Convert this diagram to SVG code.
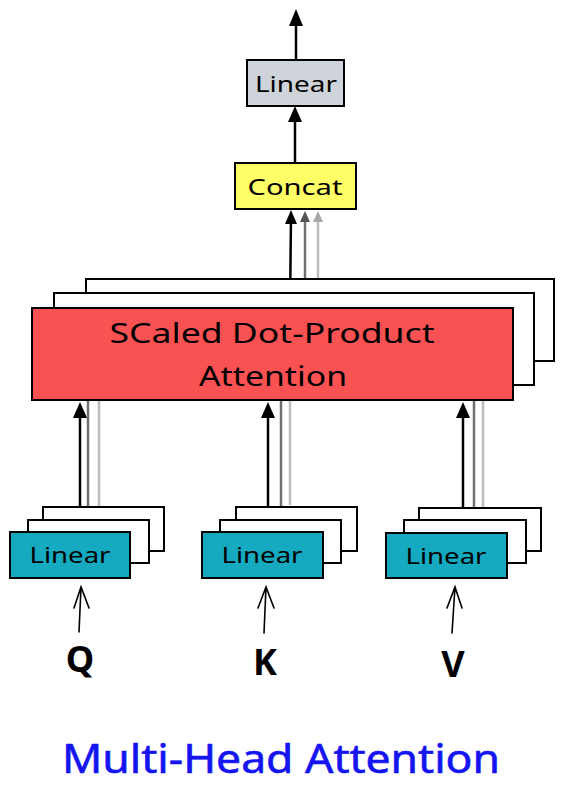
<svg xmlns="http://www.w3.org/2000/svg" width="564" height="797" viewBox="0 0 564 797">
<style>
.box{stroke:#000;stroke-width:2}
.back{fill:#fff;stroke:#000;stroke-width:2}
.lbl{font-family:"Noto Sans","Liberation Sans",sans-serif;fill:#000;text-anchor:middle;dominant-baseline:central}
.big{font-family:"Noto Sans","Liberation Sans",sans-serif;font-weight:bold;fill:#000;text-anchor:middle}
.arr{stroke:#000;stroke-width:2.5;fill:none}
.g1{stroke:#707070;stroke-width:2.5;fill:none}
.g2{stroke:#bdbdbd;stroke-width:2.5;fill:none}
.thin{stroke:#000;stroke-width:1.6;fill:none;stroke-linecap:round}
</style>

<g id="connectors">
<!-- top output -->
<line class="arr" x1="296" y1="60" x2="296" y2="14"/>
<path d="M296,9 L289,26 L303,26 Z" fill="#000"/>
<!-- concat to linear -->
<line class="arr" x1="295" y1="163" x2="295" y2="112"/>
<path d="M295,106 L288,122 L302,122 Z" fill="#000"/>
<!-- attention to concat -->
<line class="g2" x1="318" y1="279" x2="318" y2="218"/>
<path d="M318,211 L313,222 L323,222 Z" fill="#a8a8a8"/>
<line class="g1" x1="305" y1="293" x2="305" y2="218"/>
<path d="M305,211 L300,222 L310,222 Z" fill="#555"/>
<line class="arr" x1="290" y1="308" x2="291" y2="216"/>
<path d="M291,210 L285,224 L297,224 Z" fill="#000"/>
<!-- Q -->
<line class="g2" x1="99" y1="508" x2="99" y2="400"/>
<line class="g1" x1="88" y1="520" x2="88" y2="400"/>
<line class="arr" x1="80" y1="535" x2="80" y2="410"/>
<path d="M80,402 L73,418 L87,418 Z" fill="#000"/>
<!-- K -->
<line class="g2" x1="290" y1="505" x2="290" y2="400"/>
<line class="g1" x1="281" y1="517" x2="281" y2="400"/>
<line class="arr" x1="268" y1="535" x2="268" y2="410"/>
<path d="M268,402 L261,418 L275,418 Z" fill="#000"/>
<!-- V -->
<line class="g2" x1="483" y1="508" x2="483" y2="400"/>
<line class="g1" x1="474" y1="520" x2="474" y2="400"/>
<line class="arr" x1="463" y1="533" x2="463" y2="410"/>
<path d="M463,402 L456,418 L470,418 Z" fill="#000"/>
<!-- inputs -->
<path class="thin" d="M79,632 L81,587 M74,608 L81,587 L89,608"/>
<path class="thin" d="M264,633 L266,587 M258,608 L266,587 L274,608"/>
<path class="thin" d="M452,633 L455,587 M447,608 L455,587 L462,608"/>
</g>

<g id="linear-out">
<rect class="box" x="247" y="60" width="97" height="46" fill="#ced4da"/>
<text class="lbl" x="296" y="83" font-size="22" textLength="82" lengthAdjust="spacingAndGlyphs">Linear</text>
</g>

<g id="concat">
<rect class="box" x="235" y="163" width="121" height="46" fill="#ffff66"/>
<text class="lbl" x="295" y="186" font-size="22" textLength="95" lengthAdjust="spacingAndGlyphs">Concat</text>
</g>

<g id="attention">
<rect class="back" x="86" y="279" width="468" height="82"/>
<rect class="back" x="54" y="293" width="480" height="92"/>
<rect class="box" x="32" y="308" width="481" height="92" fill="#fa5252"/>
<text class="lbl" x="272" y="332" font-size="28" textLength="325" lengthAdjust="spacingAndGlyphs">SCaled Dot-Product</text>
<text class="lbl" x="273" y="375" font-size="28" textLength="148" lengthAdjust="spacingAndGlyphs">Attention</text>
</g>

<g id="linear-q">
<rect class="back" x="43" y="507" width="121" height="44"/>
<rect class="back" x="28" y="520" width="121" height="43"/>
<rect class="box" x="10" y="532" width="120" height="46" fill="#15aabf"/>
<text class="lbl" x="70" y="555" font-size="21" textLength="81" lengthAdjust="spacingAndGlyphs">Linear</text>
</g>

<g id="linear-k">
<rect class="back" x="236" y="507" width="121" height="44"/>
<rect class="back" x="220" y="520" width="121" height="43"/>
<rect class="box" x="202" y="532" width="121" height="46" fill="#15aabf"/>
<text class="lbl" x="262" y="555" font-size="21" textLength="81" lengthAdjust="spacingAndGlyphs">Linear</text>
</g>

<g id="linear-v">
<rect class="back" x="419" y="508" width="122" height="43"/>
<rect class="back" x="404" y="520" width="122" height="43"/>
<rect class="box" x="386" y="533" width="121" height="45" fill="#15aabf"/>
<text class="lbl" x="446" y="556" font-size="21" textLength="81" lengthAdjust="spacingAndGlyphs">Linear</text>
</g>

<g id="labels">
<text class="big" x="80" y="672" font-size="36">Q</text>
<text class="big" x="265" y="675" font-size="36">K</text>
<text class="big" x="453" y="677" font-size="36">V</text>
</g>

<g id="title">
<text x="281" y="773" font-family="Noto Sans, Liberation Sans, sans-serif" font-size="40" fill="#1414f0" stroke="#1414f0" stroke-width="0.6" text-anchor="middle" textLength="438" lengthAdjust="spacingAndGlyphs">Multi-Head Attention</text>
</g>
</svg>
